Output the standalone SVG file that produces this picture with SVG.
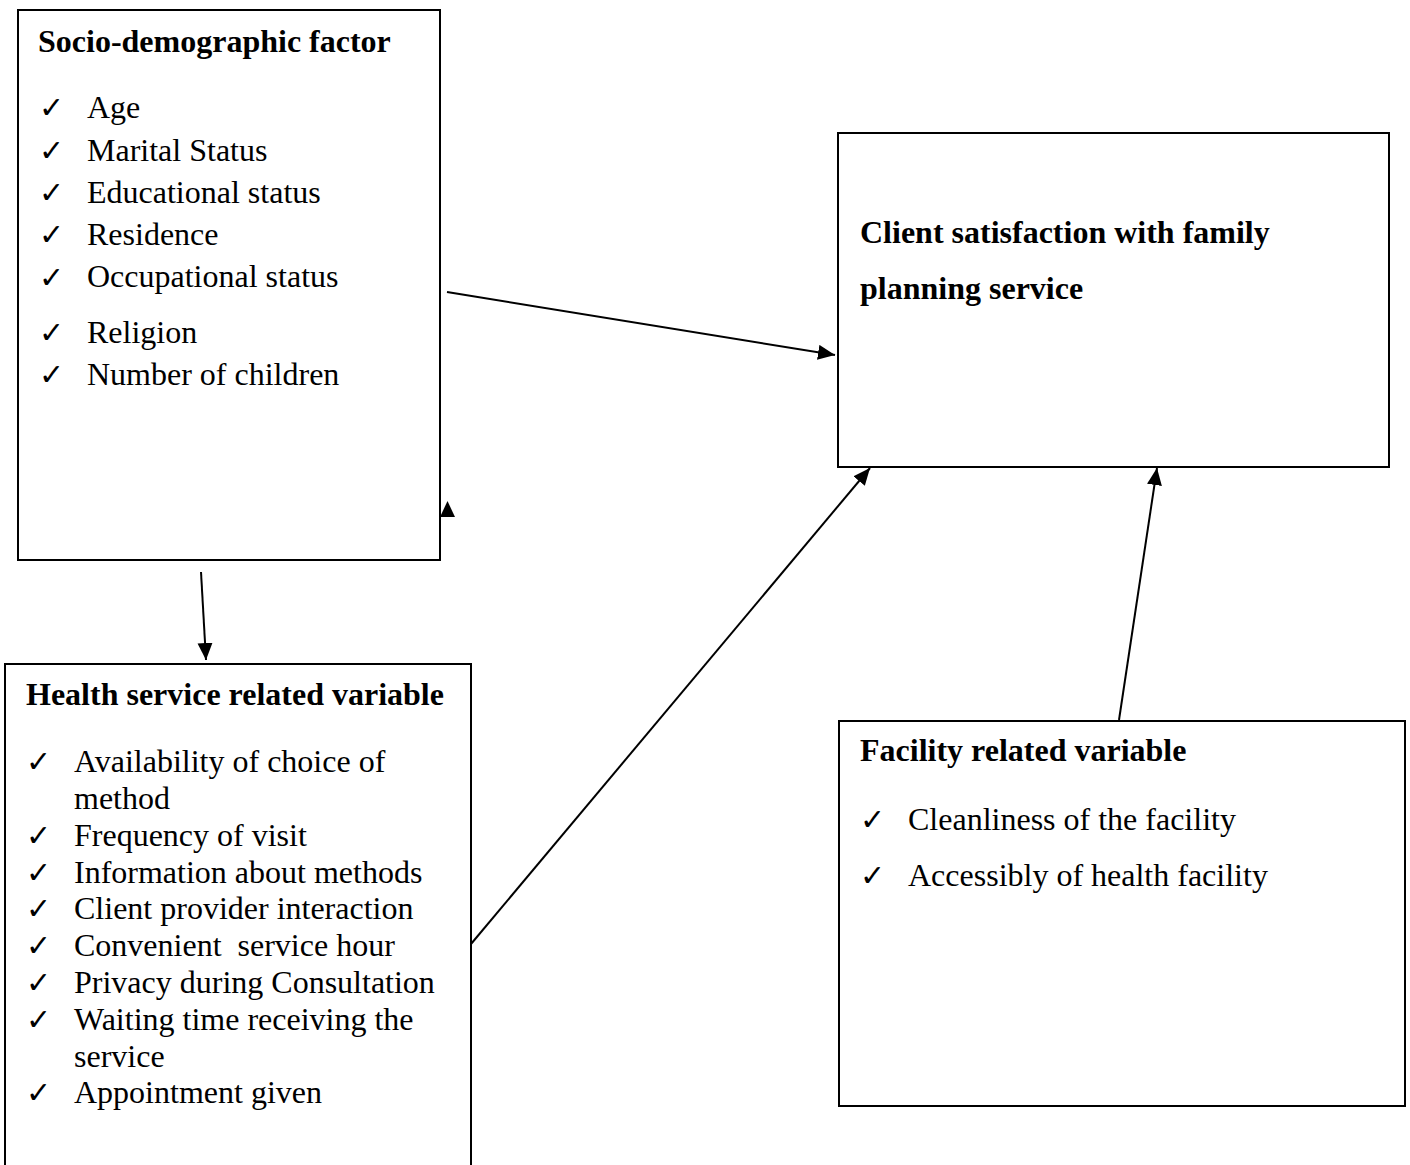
<svg xmlns="http://www.w3.org/2000/svg" width="1410" height="1165" viewBox="0 0 1410 1165">
<style>
.box{fill:#fff;stroke:#000;stroke-width:2}
.t{font-family:"Liberation Serif","Times New Roman",serif;font-size:32px;fill:#000}
.b{font-weight:bold}
.ck{font-family:"DejaVu Sans",sans-serif;font-size:30px;fill:#000}
.con{stroke:#000;stroke-width:2;fill:none}
</style>
<defs>
<marker id="ah" markerUnits="userSpaceOnUse" markerWidth="18" markerHeight="16" refX="17" refY="7.5" orient="auto">
<path d="M0,0 L17,7.5 L0,15 z" fill="#000"/>
</marker>
</defs>
<rect width="1410" height="1165" fill="#fff"/>
<g id="socio">
<rect class="box" x="18" y="10" width="422" height="550"/>
<text class="t b" x="38" y="52">Socio-demographic factor</text>
<g class="ck">
<text x="39" y="118">✓</text><text x="39" y="161">✓</text><text x="39" y="203">✓</text><text x="39" y="245">✓</text><text x="39" y="288">✓</text><text x="39" y="343">✓</text><text x="39" y="385">✓</text>
</g>
<text class="t" x="87" y="118">Age</text>
<text class="t" x="87" y="161">Marital Status</text>
<text class="t" x="87" y="203">Educational status</text>
<text class="t" x="87" y="245">Residence</text>
<text class="t" x="87" y="287">Occupational status</text>
<text class="t" x="87" y="343">Religion</text>
<text class="t" x="87" y="385">Number of children</text>
</g>
<g id="client">
<rect class="box" x="838" y="133" width="551" height="334"/>
<text class="t b" x="860" y="243">Client satisfaction with family</text>
<text class="t b" x="860" y="299">planning service</text>
</g>
<g id="health">
<rect class="box" x="5" y="664" width="466" height="520"/>
<text class="t b" x="26" y="705">Health service related variable</text>
<g class="ck">
<text x="26" y="772">✓</text><text x="26" y="846">✓</text><text x="26" y="883">✓</text><text x="26" y="919">✓</text><text x="26" y="956">✓</text><text x="26" y="993">✓</text><text x="26" y="1030">✓</text><text x="26" y="1103">✓</text>
</g>
<text class="t" x="74" y="772">Availability of choice of</text>
<text class="t" x="74" y="809">method</text>
<text class="t" x="74" y="846">Frequency of visit</text>
<text class="t" x="74" y="883">Information about methods</text>
<text class="t" x="74" y="919">Client provider interaction</text>
<text class="t" x="74" y="956" xml:space="preserve">Convenient  service hour</text>
<text class="t" x="74" y="993">Privacy during Consultation</text>
<text class="t" x="74" y="1030">Waiting time receiving the</text>
<text class="t" x="74" y="1067">service</text>
<text class="t" x="74" y="1103">Appointment given</text>
</g>
<g id="facility">
<rect class="box" x="839" y="721" width="566" height="385"/>
<text class="t b" x="860" y="761">Facility related variable</text>
<g class="ck">
<text x="860" y="830">✓</text><text x="860" y="886">✓</text>
</g>
<text class="t" x="908" y="830">Cleanliness of the facility</text>
<text class="t" x="908" y="886">Accessibly of health facility</text>
</g>
<g id="connectors">
<line class="con" x1="447" y1="292" x2="835" y2="355" marker-end="url(#ah)"/>
<line class="con" x1="201" y1="572" x2="206" y2="660" marker-end="url(#ah)"/>
<line class="con" x1="471" y1="944" x2="870" y2="468" marker-end="url(#ah)"/>
<line class="con" x1="1119" y1="720" x2="1157" y2="468" marker-end="url(#ah)"/>
<polygon points="447.5,501 440,517 455,517" fill="#000"/>
</g>
</svg>
